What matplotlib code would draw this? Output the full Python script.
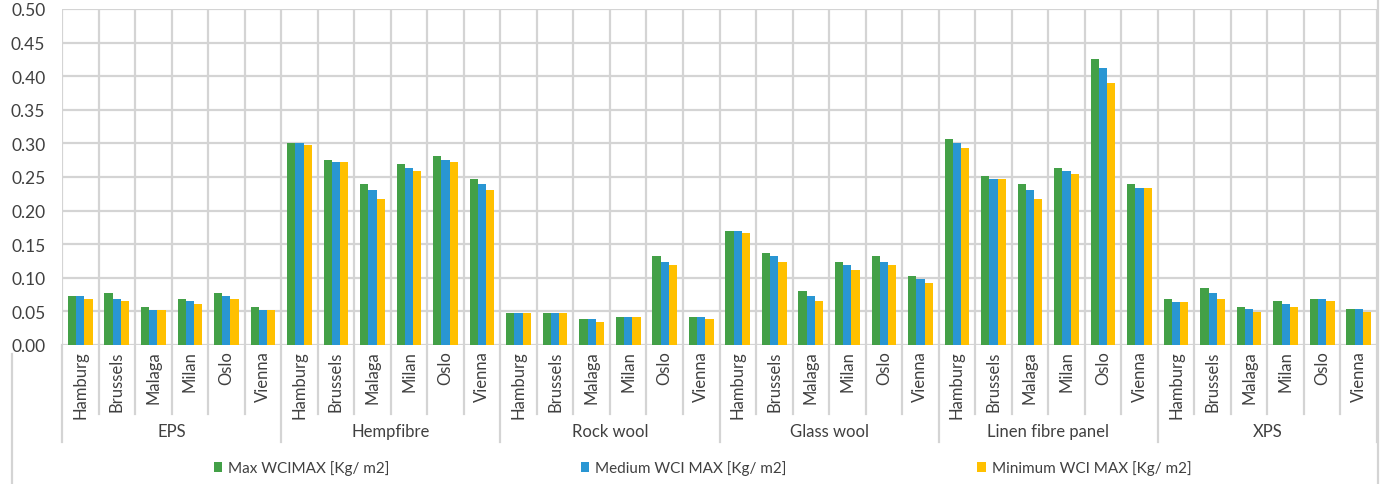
#! /usr/bin/env python3

import matplotlib
matplotlib.use("Agg")
import matplotlib.pyplot as plt
from matplotlib.lines import Line2D
from matplotlib.transforms import blended_transform_factory
import numpy as np

plt.rcParams["font.family"] = ["Lato", "DejaVu Sans"]

materials = ["EPS", "Hempfibre", "Rock wool", "Glass wool", "Linen fibre panel", "XPS"]
cities = ["Hamburg", "Brussels", "Malaga", "Milan", "Oslo", "Vienna"]

# WCI MAX per material, city order as above
max_wci = [
    0.073, 0.077, 0.057, 0.069, 0.077, 0.057,   # EPS
    0.301, 0.276, 0.239, 0.269, 0.281, 0.247,   # Hempfibre
    0.048, 0.048, 0.039, 0.042, 0.132, 0.042,   # Rock wool
    0.170, 0.137, 0.081, 0.123, 0.132, 0.103,   # Glass wool
    0.306, 0.251, 0.239, 0.263, 0.425, 0.239,   # Linen fibre panel
    0.069, 0.085, 0.057, 0.065, 0.069, 0.053,   # XPS
]
medium_wci = [
    0.073, 0.069, 0.052, 0.065, 0.073, 0.052,
    0.301, 0.272, 0.230, 0.263, 0.276, 0.239,
    0.048, 0.048, 0.039, 0.042, 0.123, 0.042,
    0.170, 0.132, 0.073, 0.119, 0.123, 0.098,
    0.301, 0.247, 0.230, 0.259, 0.412, 0.234,
    0.064, 0.077, 0.053, 0.061, 0.069, 0.053,
]
min_wci = [
    0.069, 0.065, 0.052, 0.061, 0.069, 0.052,
    0.297, 0.272, 0.217, 0.259, 0.272, 0.230,
    0.048, 0.048, 0.034, 0.042, 0.119, 0.039,
    0.166, 0.123, 0.065, 0.111, 0.119, 0.093,
    0.293, 0.247, 0.217, 0.255, 0.390, 0.234,
    0.064, 0.069, 0.049, 0.057, 0.065, 0.049,
]

series = [
    ("Max WCIMAX [Kg/ m2]", max_wci, "#43A047"),
    ("Medium WCI MAX [Kg/ m2]", medium_wci, "#2996D3"),
    ("Minimum WCI MAX [Kg/ m2]", min_wci, "#FFC000"),
]

GRID = "#d4d4d4"
TEXT = "#404040"
n = len(materials) * len(cities)
x = np.arange(n)

fig = plt.figure(figsize=(13.86, 4.85), dpi=100)
ax = fig.add_axes([62 / 1386, 139 / 485, 1315 / 1386, 336 / 485])

width = 0.225
for i, (name, vals, color) in enumerate(series):
    ax.bar(x + (i - 1) * width, vals, width, color=color, label=name, zorder=3)

ax.set_xlim(-0.5, n - 0.5)
ax.set_ylim(0, 0.5)
ax.set_yticks(np.arange(0, 0.501, 0.05))
ax.set_yticklabels(["%.2f" % v for v in np.arange(0, 0.501, 0.05)], fontsize=12.5, color=TEXT)
ax.set_xticks(x)
ax.set_xticklabels(cities * len(materials), rotation=90, fontsize=12, color=TEXT)
ax.set_xticks(np.arange(-0.5, n, 1), minor=True)
ax.tick_params(axis="both", which="both", length=0)
ax.tick_params(axis="y", pad=12)
ax.tick_params(axis="x", pad=4)

ax.grid(axis="y", color=GRID, linewidth=1.6, zorder=0)
ax.grid(axis="x", which="minor", color=GRID, linewidth=1.6, zorder=0)
ax.grid(axis="x", which="major", visible=False)
for s in ax.spines.values():
    s.set_visible(False)

# category axis separators below the plot
trans = blended_transform_factory(ax.transData, ax.transAxes)
for b in np.arange(-0.5, n, 1):
    group_edge = (b + 0.5) % len(cities) == 0
    y_end = -0.29 if group_edge else -0.205
    ax.add_line(Line2D([b, b], [0, y_end], transform=trans, color=GRID,
                       linewidth=1.6, clip_on=False))
for g, mat in enumerate(materials):
    mid = g * len(cities) + (len(cities) - 1) / 2
    ax.text(mid, -0.255, mat, transform=trans, ha="center", va="center",
            fontsize=12, color=TEXT)

# chart frame pieces
fig.add_artist(Line2D([1378 / 1386, 1378 / 1386], [0, 1], color=GRID, linewidth=1.6))
fig.add_artist(Line2D([12 / 1386, 12 / 1386], [0, 130 / 485], color=GRID, linewidth=1.6))

fig.legend(loc="center", bbox_to_anchor=(0.507, 16 / 485), ncol=3, frameon=False,
           fontsize=11, handlelength=0.55, handleheight=0.55, handletextpad=0.4,
           columnspacing=12.5, labelcolor=TEXT)

fig.savefig("out.png")
